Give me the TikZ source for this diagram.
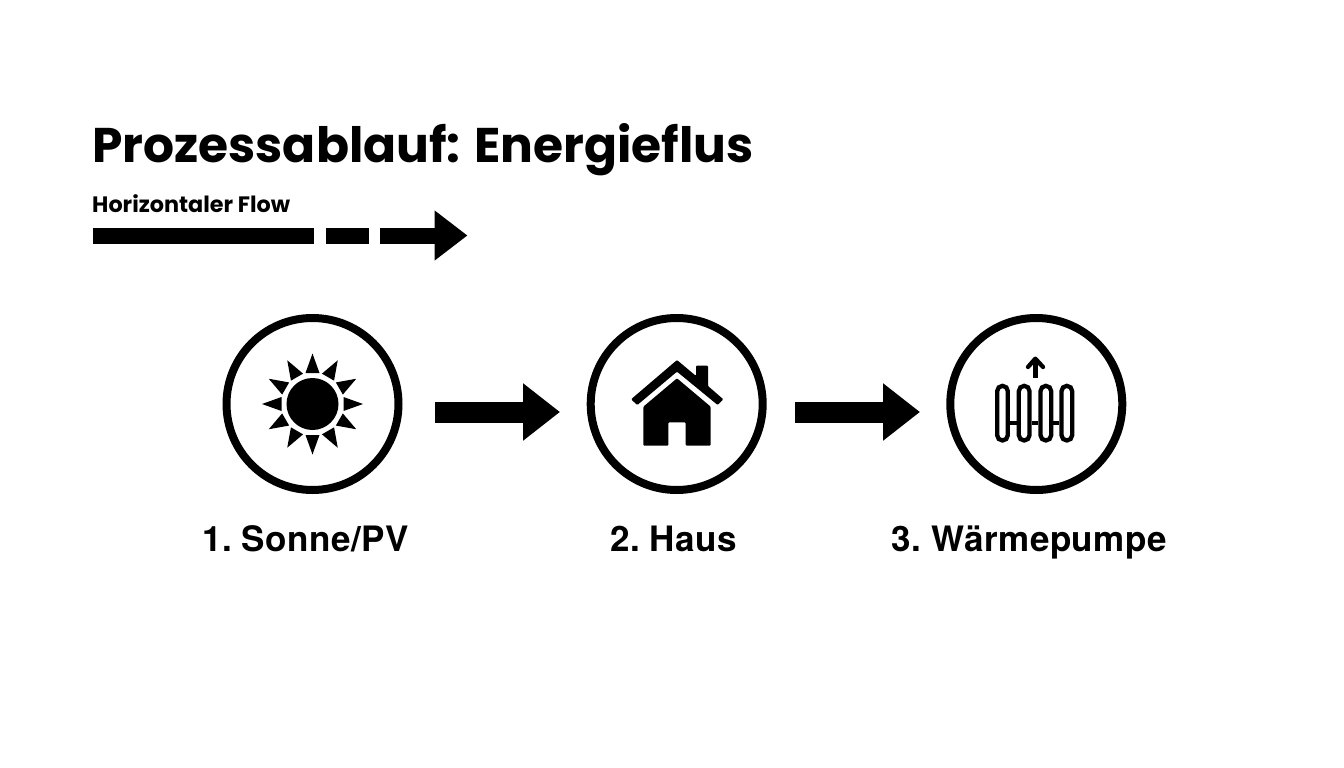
\documentclass[tikz,border=0pt]{standalone}
\usepackage{fontspec}
\setmainfont{Poppins}
\newfontfamily\lblfont[WordSpace=0.6,LetterSpace=1.5]{TeX Gyre Heros}
\usetikzlibrary{arrows.meta,calc}
\tikzset{
  ring/.style={circle,draw=black,line width=8pt,minimum size=172pt,inner sep=0pt,fill=white},
  blockarrow/.style={line width=21pt,-{Triangle[length=37pt,width=55pt]}},
  flowbar/.style={line width=16pt},
  flowarrow/.style={line width=16pt,-{Triangle[length=33pt,width=48pt]}},
  title/.style={anchor=base west,inner sep=0pt,font=\bfseries\fontsize{48.7}{49}\selectfont},
  subtitle/.style={anchor=base west,inner sep=0pt,font=\bfseries\fontsize{22.3}{22}\selectfont},
  steplabel/.style={anchor=base,inner sep=0pt,font=\lblfont\bfseries\fontsize{35}{35}\selectfont},
}
\begin{document}
\begin{tikzpicture}[x=1pt,y=-1pt]
\useasboundingbox (0,0) rectangle (1344,768);
\node[title] (t) at (92,162) {Prozessablauf: Energieflus};
\node[subtitle] (s) at (92,212) {Horizontaler Flow};
\coordinate (b1a) at (92.7,235.5); \coordinate (b1b) at (314,235.5);
\coordinate (b2a) at (325.7,235.5); \coordinate (b2b) at (368.7,235.5);
\coordinate (b3a) at (380,235.5); \coordinate (b3b) at (467.5,235.5);
\draw[flowbar] (b1a) -- (b1b);
\draw[flowbar] (b2a) -- (b2b);
\draw[flowarrow] (b3a) -- (b3b);
\node[ring] (c1) at (312.5,404) {};
\node[ring] (c2) at (676.7,404) {};
\node[ring] (c3) at (1036.3,404) {};
\draw[blockarrow] ($(c1.center)+(122.5,8)$) -- ($(c2.center)+(-116.7,8)$);
\draw[blockarrow] ($(c2.center)+(118.3,8)$) -- ($(c3.center)+(-116.3,8)$);
% sun
\fill (c1.center) circle (26);
\foreach \a in {0,30,...,330}{
  \fill[shift={(c1.center)},rotate=\a] (31,-7) -- (50.5,0) -- (31,7) -- cycle;
}
% house
\begin{scope}[shift={(580,305)},scale=1/3]
\fill[rounded corners=1pt] (153,283) -- (291,165) -- (348,213) -- (348,182) -- (384,182) -- (384,243) -- (430,283) -- (413,300) -- (291,200) -- (172,300) -- cycle;
\fill[rounded corners=1pt] (291,220) -- (190,305) -- (190,422) -- (265,422) -- (265,352) -- (317,352) -- (317,422) -- (392,422) -- (392,305) -- cycle;
\end{scope}
% radiator
\begin{scope}[shift={(940,305)},scale=1/3,line width=4.3pt]
\foreach \xc in {187.5,252.5,317.5,380.5}{
  \draw[rounded corners=5.3pt] (\xc-16,242.5) rectangle (\xc+16,406.5);
}
\draw (210,355) -- (230,355);
\draw (275,355) -- (295,355);
\draw (340,355) -- (358,355);
\draw[line width=4.7pt] (286,219) -- (286,165);
\draw[line width=4.3pt,line join=round,line cap=round] (264,186) -- (286,161) -- (309,186);
\end{scope}
\node[steplabel] (l1) at (305.5,551) {1. Sonne/PV};
\node[steplabel] (l2) at (673.5,551) {2. Haus};
\node[steplabel] (l3) at (1029.5,551) {3. Wärmepumpe};
\end{tikzpicture}
\end{document}
